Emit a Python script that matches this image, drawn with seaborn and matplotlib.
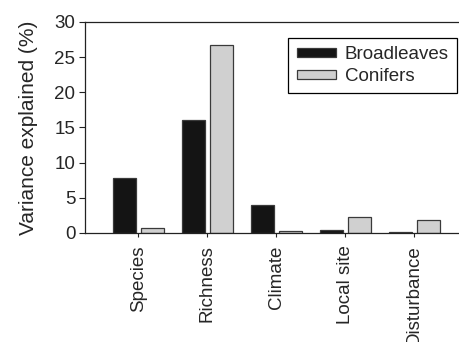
import matplotlib
matplotlib.use("Agg")
import matplotlib.pyplot as plt
import seaborn as sns
import pandas as pd

categories = ["Species", "Richness", "Climate", "Local site", "Disturbance"]
broadleaves = [7.8, 16.0, 4.0, 0.4, 0.1]
conifers = [0.7, 26.7, 0.2, 2.3, 1.8]
groups = ["Broadleaves", "Conifers"]
y_ticks = [0, 5, 10, 15, 20, 25, 30]

df = pd.DataFrame({
    "factor": categories * 2,
    "group": [groups[0]] * len(categories) + [groups[1]] * len(categories),
    "value": broadleaves + conifers,
})

sns.set_style("ticks")
plt.rcParams["font.family"] = ["Liberation Sans", "DejaVu Sans"]

fig = plt.figure(figsize=(4.6, 3.42), dpi=100)
ax = fig.add_axes([0.185, 0.319, 0.815, 0.617])

sns.barplot(
    data=df, x="factor", y="value", hue="group", order=categories,
    hue_order=groups, palette={"Broadleaves": "#141414", "Conifers": "#d0d0d0"},
    width=0.8, gap=0.17, edgecolor="#3a3a3a", linewidth=0.9, ax=ax,
)

ax.set_xlim(-0.77, 4.66)
ax.set_ylim(0, 30)
ax.set_yticks(y_ticks)
ax.set_xlabel("")
ax.set_ylabel("Variance explained (%)", fontsize=15, labelpad=12)
ax.tick_params(axis="y", labelsize=13.5, length=4, width=0.8, color="#222222", pad=3)
ax.tick_params(axis="x", labelsize=13.5, length=3, width=0.8, color="#222222", pad=6)
plt.setp(ax.get_xticklabels(), rotation=90)

for side in ("left", "bottom", "top"):
    ax.spines[side].set_visible(True)
    ax.spines[side].set_linewidth(0.9)
    ax.spines[side].set_color("#222222")
ax.spines["right"].set_visible(False)

leg = ax.legend(
    loc="upper right", bbox_to_anchor=(0.992, 0.924), borderaxespad=0,
    fontsize=13.5, frameon=True, fancybox=False, edgecolor="black",
    framealpha=1, handlelength=2.1, handleheight=0.4, handletextpad=0.45,
    labelspacing=0.25, borderpad=0.45, title=None,
)
leg.get_frame().set_linewidth(0.9)

fig.savefig("out.png", dpi=100)
